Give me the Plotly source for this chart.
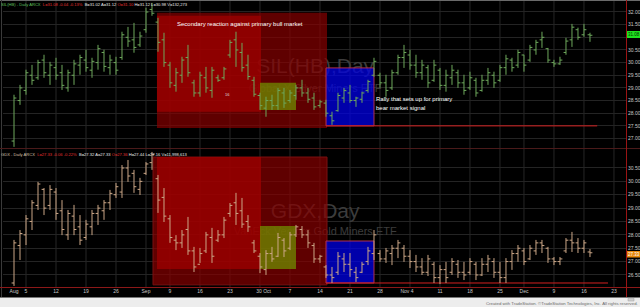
import plotly.graph_objects as go

W, H = 640, 307

# ---------------- data (trading days Aug 1 – Dec 17, 2019) ----------------
tick_idx = [0, 2, 7, 12, 17, 22, 26, 31, 36, 41.6, 46, 51, 56, 61, 65.5, 71, 76, 81, 85, 90, 95, 100]
tick_txt = ["Aug", "5", "12", "19", "26", "Sep", "9", "16", "23", "30 Oct", "7", "14", "21", "28",
            "Nov 4", "11", "18", "25", "Dec", "9", "16", "23"]
grid_idx = [2, 7, 12, 17, 22, 26, 31, 36, 41, 46, 51, 56, 61, 66, 71, 76, 81, 85, 90, 95, 100]

sil_high = [28.73, 29.12, 29.72, 29.91, 30.11, 30.31, 30.03, 30.19, 29.91, 29.72,
            30.11, 30.31, 30.51, 30.19, 30.70, 30.51, 30.31, 30.23, 31.22, 31.41,
            31.57, 31.22, 32.17, 32.36, 31.77, 31.18, 30.03, 29.79, 30.23, 30.70,
            29.32, 29.64, 29.83, 29.83, 29.52, 29.83, 30.90, 31.22, 30.78, 30.31,
            29.44, 28.81, 28.65, 28.73, 29.00, 29.00, 28.92, 29.12, 29.32, 29.00,
            28.81, 28.53, 28.53, 28.06, 28.81, 29.00, 29.12, 28.65, 28.85, 29.32,
            30.19, 29.60, 29.52, 29.72, 30.31, 30.70, 30.51, 30.31, 30.11, 29.91,
            30.11, 29.79, 29.72, 29.91, 29.72, 29.52, 29.64, 29.40, 29.52, 29.79,
            29.64, 29.91, 30.31, 30.19, 30.51, 30.31, 30.70, 30.90, 31.22, 30.58,
            30.11, 30.23, 30.98, 31.53, 31.38, 31.53, 31.18]
sil_low = [26.67, 28.33, 28.73, 29.12, 29.32, 29.40, 29.12, 29.32, 28.92, 28.85,
           29.12, 29.52, 29.64, 29.40, 29.72, 29.64, 29.52, 29.52, 30.11, 30.62,
           30.39, 30.62, 31.18, 31.85, 30.43, 29.83, 29.00, 28.85, 29.20, 29.44,
           28.65, 28.65, 28.81, 28.61, 29.24, 29.32, 30.19, 29.83, 29.64, 29.32,
           28.65, 28.13, 27.86, 28.13, 28.13, 28.21, 28.41, 28.53, 28.65, 28.41,
           28.13, 28.21, 27.86, 27.54, 28.06, 28.41, 28.41, 28.25, 28.41, 28.81,
           29.44, 29.00, 28.65, 28.92, 29.52, 29.79, 29.72, 29.40, 29.32, 29.00,
           29.24, 28.92, 28.85, 29.12, 29.00, 28.73, 28.92, 28.65, 28.85, 29.12,
           29.00, 29.24, 29.52, 29.64, 29.79, 29.64, 30.03, 30.31, 30.58, 29.99,
           29.83, 29.91, 30.31, 30.62, 30.90, 31.02, 30.82]
sil_open = [26.90, 28.50, 28.90, 29.50, 29.40, 30.10, 29.50, 29.80, 29.60, 29.00,
            29.50, 29.90, 30.10, 29.70, 30.00, 30.40, 29.80, 30.00, 30.20, 31.00,
            30.90, 30.70, 31.30, 32.10, 31.60, 30.90, 29.90, 29.10, 29.50, 30.20,
            29.20, 28.80, 29.40, 28.90, 29.40, 29.40, 30.30, 30.90, 30.40, 29.90,
            29.30, 28.70, 28.20, 28.50, 28.30, 28.80, 28.50, 28.70, 29.00, 28.80,
            28.60, 28.30, 28.40, 27.90, 28.10, 28.60, 28.80, 28.50, 28.55, 28.90,
            29.50, 29.50, 29.20, 29.00, 29.60, 30.20, 30.30, 29.90, 29.60, 29.80,
            29.30, 29.70, 29.10, 29.40, 29.60, 29.20, 29.00, 29.30, 28.90, 29.30,
            29.50, 29.30, 29.80, 30.10, 29.90, 30.30, 30.10, 30.50, 30.90, 30.55,
            30.00, 29.95, 30.40, 30.90, 31.30, 31.10, 31.10]
sil_close = [28.60, 29.00, 29.60, 29.30, 30.00, 29.60, 29.90, 29.50, 29.10, 29.60,
             29.95, 30.20, 29.80, 30.05, 30.55, 29.85, 30.10, 29.70, 31.10, 30.85,
             30.60, 31.05, 32.00, 31.95, 30.80, 30.00, 29.20, 29.60, 30.10, 29.60,
             28.80, 29.50, 29.00, 29.70, 29.30, 29.75, 30.80, 30.50, 29.80, 29.45,
             28.75, 28.30, 28.50, 28.30, 28.90, 28.40, 28.80, 29.00, 28.80, 28.55,
             28.25, 28.45, 28.00, 27.70, 28.70, 28.90, 28.50, 28.60, 28.80, 29.25,
             30.05, 29.20, 28.90, 29.60, 30.20, 30.40, 29.90, 29.60, 29.90, 29.20,
             29.90, 29.10, 29.50, 29.70, 29.20, 28.90, 29.40, 28.80, 29.30, 29.60,
             29.20, 29.80, 30.15, 29.80, 30.40, 29.90, 30.60, 30.80, 31.00, 30.10,
             29.95, 30.10, 30.85, 31.40, 31.00, 31.30, 31.08]

gdx_high = [27.81, 28.18, 28.74, 29.30, 29.98, 29.75, 29.86, 29.75, 29.30, 28.93,
            29.12, 28.74, 28.56, 28.93, 29.12, 29.30, 29.68, 29.94, 30.61, 30.80,
            30.43, 30.13, 30.72, 31.10, 30.24, 29.75, 28.74, 27.99, 28.18, 28.67,
            27.55, 27.51, 28.11, 28.26, 28.18, 28.67, 29.19, 29.57, 29.38, 28.74,
            27.81, 27.32, 27.43, 27.55, 28.07, 27.88, 28.11, 28.37, 28.33, 28.18,
            27.70, 27.25, 26.87, 26.80, 27.36, 27.32, 27.32, 26.80, 26.99, 27.55,
            28.18, 27.43, 27.51, 27.62, 27.81, 27.62, 27.43, 27.25, 27.13, 27.25,
            26.99, 26.87, 26.99, 27.13, 27.06, 26.99, 27.13, 26.99, 27.13, 27.25,
            27.13, 26.99, 27.13, 27.43, 27.62, 27.51, 27.62, 27.81, 27.81, 27.55,
            27.17, 27.17, 27.88, 28.11, 27.88, 27.81, 27.47]
gdx_low = [26.09, 27.06, 27.62, 28.18, 28.93, 28.74, 28.93, 28.56, 27.99, 27.81,
           27.99, 27.62, 27.81, 27.99, 28.37, 28.56, 28.93, 29.38, 29.38, 29.98,
           29.57, 29.49, 30.24, 30.43, 28.82, 28.48, 27.70, 27.43, 27.51, 27.25,
           26.61, 26.95, 27.32, 26.95, 27.73, 27.88, 28.67, 28.37, 28.26, 28.11,
           27.32, 26.57, 26.50, 26.99, 27.17, 27.17, 27.43, 27.92, 27.88, 27.51,
           26.95, 26.95, 26.39, 26.20, 26.50, 26.61, 26.43, 26.24, 26.57, 26.87,
           27.06, 26.99, 26.95, 26.87, 27.13, 26.99, 26.76, 26.61, 26.50, 26.46,
           26.20, 26.16, 26.20, 26.50, 26.39, 26.31, 26.50, 26.31, 26.46, 26.61,
           26.39, 26.20, 26.20, 26.69, 26.99, 26.87, 27.06, 27.25, 27.32, 26.95,
           26.87, 26.87, 27.32, 27.36, 27.32, 27.32, 27.17]
gdx_open = [26.20, 27.60, 28.00, 28.50, 29.10, 29.70, 29.10, 29.60, 28.90, 28.00,
            28.70, 28.30, 27.90, 28.30, 28.80, 28.90, 29.20, 29.50, 29.60, 30.50,
            30.30, 29.70, 30.30, 30.70, 30.10, 29.40, 28.60, 27.80, 27.70, 28.20,
            27.40, 26.90, 27.40, 27.90, 27.80, 28.00, 28.80, 29.20, 28.90, 28.50,
            27.70, 27.20, 26.70, 27.30, 27.20, 27.80, 27.50, 28.00, 28.20, 28.00,
            27.60, 27.10, 26.80, 26.50, 26.60, 27.10, 26.90, 26.60, 26.60, 27.00,
            27.30, 27.30, 27.10, 27.30, 27.50, 27.50, 27.20, 27.00, 26.80, 26.60,
            26.90, 26.40, 26.70, 26.60, 26.90, 26.60, 26.60, 26.90, 26.50, 26.90,
            27.00, 26.60, 26.40, 27.00, 27.30, 27.40, 27.10, 27.40, 27.70, 27.50,
            27.10, 27.00, 27.40, 27.80, 27.70, 27.50, 27.36]
gdx_close = [27.70, 28.05, 28.60, 29.20, 29.90, 29.00, 29.70, 28.80, 28.20, 28.80,
             28.20, 27.80, 28.40, 28.80, 29.00, 29.20, 29.55, 29.80, 30.50, 30.20,
             29.80, 30.00, 30.65, 31.00, 29.30, 28.70, 27.90, 27.70, 28.00, 27.40,
             26.80, 27.30, 28.00, 27.20, 28.00, 28.55, 29.10, 28.80, 28.40, 28.30,
             27.40, 26.80, 27.30, 27.10, 27.90, 27.40, 28.00, 28.30, 28.00, 27.70,
             27.10, 27.20, 26.50, 26.40, 27.20, 26.90, 26.70, 26.40, 26.90, 27.40,
             28.00, 27.10, 27.40, 27.50, 27.70, 27.20, 27.00, 26.80, 26.60, 27.10,
             26.40, 26.70, 26.40, 27.00, 26.60, 26.50, 27.00, 26.50, 26.90, 27.10,
             26.60, 26.40, 27.00, 27.30, 27.50, 27.00, 27.50, 27.70, 27.60, 27.10,
             27.00, 27.10, 27.80, 27.70, 27.50, 27.70, 27.33]

sil_ticks = [27.0, 27.5, 28.0, 28.5, 29.0, 29.5, 30.0, 30.5, 31.0, 31.5, 32.0]
gdx_ticks = [26.5, 27.0, 27.5, 28.0, 28.5, 29.0, 29.5, 30.0, 30.5]
sil_last, gdx_last = 31.08, 27.33

# ---------------- helpers ----------------
def px(x):
    return x / W

def py(y):
    return 1 - y / H

def ohlc_xy(o, h, l, c, w=0.4):
    xs, ys = [], []
    for i, (oo, hh, ll, cc) in enumerate(zip(o, h, l, c)):
        xs += [i, i, None, i - w, i, None, i, i + w, None]
        ys += [ll, hh, None, oo, oo, None, cc, cc, None]
    return xs, ys

def box(x0, x1, y0, y1, fill, yaxis, line=None):
    return go.Scatter(x=[x0, x1, x1, x0, x0], y=[y0, y0, y1, y1, y0], mode="lines",
                      fill="toself", fillcolor=fill,
                      line=dict(width=1 if line else 0, color=line or "rgba(0,0,0,0)"),
                      yaxis=yaxis, hoverinfo="skip")

fig = go.Figure()

# watermarks (under the boxes)
fig.add_trace(go.Scatter(x=[50.2, 50.2], y=[29.79, 28.96], mode="text", yaxis="y",
                         text=["SIL(HB),Day", "Global X Silver Miners ETF"],
                         textfont=dict(size=[21, 11], color="#3c3c3c", family="Liberation Sans"),
                         hoverinfo="skip"))
fig.add_trace(go.Scatter(x=[50.2, 50.2], y=[28.82, 28.11], mode="text", yaxis="y2",
                         text=["GDX,Day", "VanEck Vectors Gold Miners ETF"],
                         textfont=dict(size=[21, 11], color="#3c3c3c", family="Liberation Sans"),
                         hoverinfo="skip"))

# boxes – top panel
fig.add_trace(box(23.83, 52.17, 27.42, 31.97, "rgba(140,0,0,0.68)", "y"))
fig.add_trace(box(23.83, 41.17, 28.06, 31.85, "rgba(165,0,0,0.68)", "y"))
fig.add_trace(box(41.0, 47.0, 28.13, 29.20, "rgba(112,150,0,0.70)", "y"))
fig.add_trace(box(52.0, 60.0, 27.50, 29.79, "rgba(0,0,235,0.72)", "y", "#b03050"))
fig.add_trace(go.Scatter(x=[52.0, 97.2], y=[27.50, 27.50], mode="lines", yaxis="y",
                         line=dict(color="#d42020", width=1), hoverinfo="skip"))
# boxes – bottom panel
fig.add_trace(box(23.17, 52.17, 26.13, 30.91, "rgba(140,0,0,0.68)", "y2", "#7a1010"))
fig.add_trace(box(23.83, 41.17, 26.72, 30.91, "rgba(165,0,0,0.68)", "y2"))
fig.add_trace(box(41.0, 47.0, 26.72, 28.33, "rgba(112,150,0,0.70)", "y2"))
fig.add_trace(box(52.0, 60.0, 26.20, 27.77, "rgba(0,0,235,0.72)", "y2", "#b03050"))
fig.add_trace(go.Scatter(x=[52.0, 99.0], y=[26.20, 26.20], mode="lines", yaxis="y2",
                         line=dict(color="#d42020", width=1), hoverinfo="skip"))

# price bars
sx, sy = ohlc_xy(sil_open, sil_high, sil_low, sil_close)
fig.add_trace(go.Scatter(x=sx, y=sy, mode="lines", yaxis="y",
                         line=dict(color="#6ea85c", width=1), hoverinfo="skip"))
gx, gy = ohlc_xy(gdx_open, gdx_high, gdx_low, gdx_close)
fig.add_trace(go.Scatter(x=gx, y=gy, mode="lines", yaxis="y2",
                         line=dict(color="#cba686", width=1), hoverinfo="skip"))

shapes = []
for gi in grid_idx:
    shapes.append(dict(type="line", xref="x", yref="paper", x0=gi, x1=gi, y0=py(287), y1=py(0),
                       line=dict(color="#262626", width=1), layer="below"))
# frame lines
shapes += [
    dict(type="line", xref="paper", yref="paper", x0=0, x1=1, y0=py(0.5), y1=py(0.5),
         line=dict(color="#6a6a6a", width=1)),
    dict(type="line", xref="paper", yref="paper", x0=px(1.5), x1=px(1.5), y0=py(297), y1=py(0),
         line=dict(color="#3a3a3a", width=1)),
    dict(type="line", xref="paper", yref="paper", x0=0, x1=1, y0=py(148.5), y1=py(148.5),
         line=dict(color="#4a1a1a", width=1)),
    dict(type="line", xref="paper", yref="paper", x0=0, x1=1, y0=py(287.5), y1=py(287.5),
         line=dict(color="#8c1818", width=1)),
    dict(type="line", xref="paper", yref="paper", x0=px(626.5), x1=px(626.5), y0=py(297), y1=py(0),
         line=dict(color="#9a1414", width=1)),
    dict(type="rect", xref="paper", yref="paper", x0=0, x1=1, y0=py(307), y1=py(297.5),
         fillcolor="#ededed", line=dict(width=0)),
    dict(type="rect", xref="paper", yref="paper", x0=px(627), x1=px(640), y0=py(38), y1=py(31),
         fillcolor="#1fe21f", line=dict(width=0)),
    dict(type="rect", xref="paper", yref="paper", x0=px(627), x1=px(640), y0=py(257.5), y1=py(251),
         fillcolor="#e8880c", line=dict(width=0)),
    dict(type="rect", xref="paper", yref="paper", x0=px(628), x1=px(634), y0=py(301), y1=py(298.3),
         fillcolor="#d0d0d0", line=dict(color="#a0a0a0", width=0.5)),
]

FONT = "Liberation Sans"

def ann(x, y, text, size=5, color="#ffffff", xanchor="left"):
    return dict(xref="paper", yref="paper", x=px(x), y=py(y), text=text, showarrow=False,
                xanchor=xanchor, yanchor="middle", font=dict(size=size, color=color, family=FONT),
                borderpad=0)

def span(t, c):
    return f"<span style='color:{c}'>{t}</span>"

RED, WHT = "#e03030", "#e8e8e8"
top_header = (span("SIL(HB) - Daily ARCX  ", "#5fc05f") + span("L=31.08 -0.04 -0.13%  ", RED)
              + span("B=31.02 A=31.12 ", WHT) + span("O=31.10 ", RED)
              + span("H=31.12 L=30.98 V=132,273", WHT))
bot_header = (span("GDX - Daily ARCX  ", "#d8c0a8") + span("L=27.33 -0.06 -0.22%  ", RED)
              + span("B=27.32 A=27.33 ", WHT) + span("O=27.36 ", RED)
              + span("H=27.44 L=27.16 V=11,998,613", WHT))

annotations = [
    ann(0, 4, top_header, 4.1),
    ann(0, 154, bot_header, 4.1),
    # commentary
    ann(240, 24, "Secondary reaction against primary bull market", 6, "#ffffff", "center"),
    ann(375, 99, "Rally that sets up for primary", 6),
    ann(375, 108, "bear market signal", 6),
    ann(227, 94, "16", 4, "#dddddd", "center"),
    # last price markers
    ann(633.5, 34.5, f"{sil_last:.2f}", 4.5, "#003300", "center"),
    ann(633.5, 254.3, f"{gdx_last:.2f}", 4.5, "#ffffff", "center"),
    # footer
    ann(639, 303.8, "Created with TradeStation. \u00a9TradeStation Technologies, Inc. All rights reserved.",
        4.3, "#6a6a6a", "right"),
]

sil_txt = ["" if v == 31.0 else f"{v:.2f}" for v in sil_ticks]
gdx_txt = [f"{v:.2f}" for v in gdx_ticks]

fig.update_layout(
    width=W, height=H, margin=dict(l=0, r=0, t=0, b=0),
    paper_bgcolor="#000000", plot_bgcolor="#000000", showlegend=False,
    shapes=shapes, annotations=annotations,
    xaxis=dict(domain=[px(3), px(627)], range=[-1.833, 102.17], anchor="y2",
               tickmode="array", tickvals=tick_idx, ticktext=tick_txt, ticks="", tickangle=0,
               showgrid=False, zeroline=False, showline=False,
               tickfont=dict(size=5, color="#c8c8c8", family=FONT)),
    yaxis=dict(domain=[py(148), py(0)], range=[26.625, 32.474], anchor="x", side="right",
               tickmode="array", tickvals=sil_ticks, ticktext=sil_txt,
               ticks="", showgrid=True, gridcolor="#242424", gridwidth=1, zeroline=False, showline=False,
               tickfont=dict(size=5, color="#c8c8c8", family=FONT)),
    yaxis2=dict(domain=[py(287), py(149)], range=[26.05, 31.21], anchor="x", side="right",
                tickmode="array", tickvals=gdx_ticks, ticktext=gdx_txt,
                ticks="", showgrid=True, gridcolor="#242424", gridwidth=1, zeroline=False, showline=False,
                tickfont=dict(size=5, color="#c8c8c8", family=FONT)),
)

fig.write_html("out.html")
